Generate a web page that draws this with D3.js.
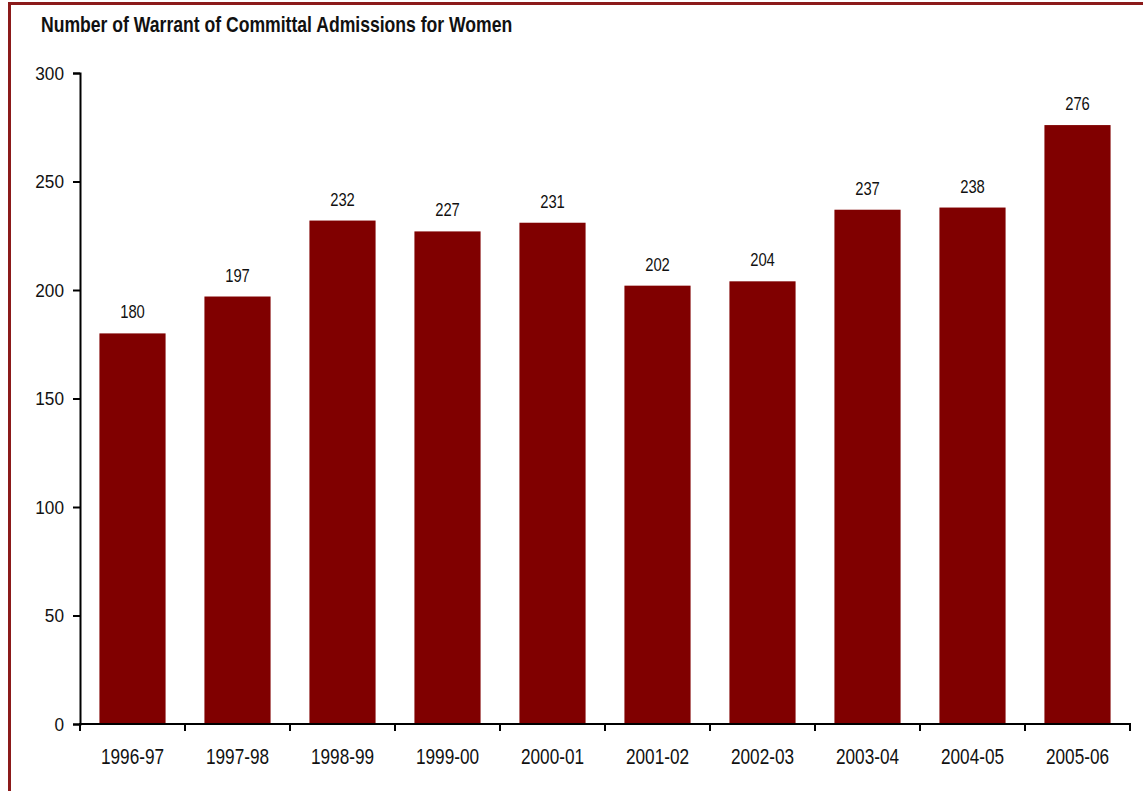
<!DOCTYPE html>
<html><head><meta charset="utf-8">
<script src="https://cdn.jsdelivr.net/npm/d3@7"></script>
<style>
html,body{margin:0;padding:0;background:#fff;overflow:hidden}
text{font-family:"Liberation Sans Narrow","Arial Narrow","Liberation Sans",Arial,sans-serif;fill:#111}
</style></head>
<body>
<svg id="chart" width="1143" height="791"></svg>
<script>
const title = "Number of Warrant of Committal Admissions for Women";
const categories = ["1996-97","1997-98","1998-99","1999-00","2000-01","2001-02","2002-03","2003-04","2004-05","2005-06"];
const values = [180,197,232,227,231,202,204,237,238,276];
const yTicks = [0,50,100,150,200,250,300];

const SX = 0.8; // horizontal condensing to mimic a narrow face
const svg = d3.select("#chart");
const barColor = "#800000";

function ntext(sel, tx, ty, sx){
  const s = sx || SX;
  return sel.attr("x",0).attr("y",0).attr("transform",(d,i)=>`translate(${tx(d,i)},${ty(d,i)}) scale(${s},1)`);
}

svg.append("rect").attr("x",9.5).attr("y",3.5).attr("width",1150).attr("height",800)
  .attr("fill","none").attr("stroke","#8b1a1a").attr("stroke-width",3);

svg.append("text").attr("transform",`translate(41,31.5) scale(${SX},1)`)
  .style("font-size","22px").style("font-weight","bold").text(title);

const x = d3.scaleBand().domain(categories).range([80,1130]).paddingInner(0.37).paddingOuter(0.185);
const y = d3.scaleLinear().domain([0,300]).range([724,73]);

svg.selectAll("rect.bar").data(values).join("rect").attr("class","bar")
  .attr("x",(d,i)=>x(categories[i])).attr("width",x.bandwidth())
  .attr("y",d=>y(d)).attr("height",d=>y(0)-y(d)).attr("fill",barColor);

ntext(svg.selectAll("text.val").data(values).join("text").attr("class","val"),
  (d,i)=>x(categories[i])+x.bandwidth()/2, d=>y(d)-15)
  .attr("text-anchor","middle").style("font-size","18.5px").text(d=>d);

// y axis
const ya = svg.append("g").attr("transform","translate(80,0)")
  .call(d3.axisLeft(y).tickValues(yTicks).tickSize(7).tickFormat(""));
ya.select(".domain").attr("stroke","#000").attr("stroke-width",2);
ya.selectAll(".tick line").attr("stroke","#000").attr("stroke-width",2);
ntext(svg.selectAll("text.ylab").data(yTicks).join("text").attr("class","ylab"),
  d=>64, d=>y(d), 0.93)
  .attr("text-anchor","end").attr("dy","0.36em").style("font-size","18.5px").text(d=>d);

// x axis
const xa = svg.append("g").attr("transform","translate(0,724)");
xa.append("line").attr("x1",79).attr("x2",1131).attr("stroke","#000").attr("stroke-width",2);
const step = x.step();
const edges = d3.range(categories.length+1).map(i=>80+i*step);
xa.selectAll("line.tk").data(edges).join("line").attr("class","tk")
  .attr("x1",d=>d).attr("x2",d=>d).attr("y1",0).attr("y2",7).attr("stroke","#000").attr("stroke-width",2);
ntext(xa.selectAll("text").data(categories).join("text"),
  d=>x(d)+x.bandwidth()/2, d=>40)
  .attr("text-anchor","middle").style("font-size","21.5px").text(d=>d);
</script>
</body></html>
